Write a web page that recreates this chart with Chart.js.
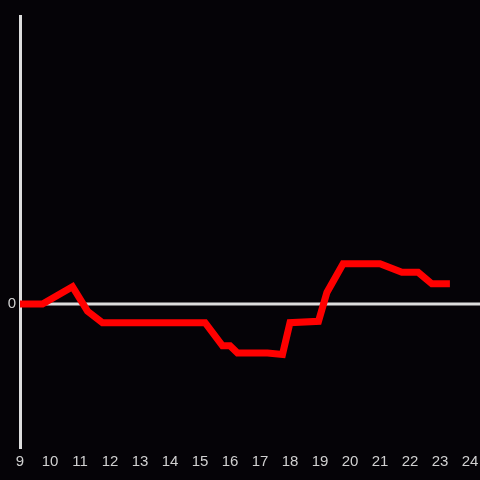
<!DOCTYPE html>
<html>
<head>
<meta charset="utf-8">
<script src="https://cdn.jsdelivr.net/npm/chart.js@4/dist/chart.umd.min.js"></script>
<style>
	html, body { margin: 0; padding: 0; background: #050307; }
	#box { width: 480px; height: 480px; }
</style>
</head>
<body>
<div id="box"><canvas id="lineChart" width="480" height="480"></canvas></div>
<script>
	// hours of day (x) and values (y)
	var hours = [9, 9.75, 10.75, 11.25, 11.75, 15.17, 15.75, 16, 16.25, 17.25, 17.75, 18, 18.95, 19.23, 19.77, 21, 21.73, 22.27, 22.73, 23.33];
	var values = [0, 0, 0.12, -0.05, -0.13, -0.13, -0.29, -0.29, -0.34, -0.34, -0.35, -0.13, -0.12, 0.08, 0.28, 0.28, 0.22, 0.22, 0.14, 0.14];
	var xTicks = [9, 10, 11, 12, 13, 14, 15, 16, 17, 18, 19, 20, 21, 22, 23, 24];

	var axisColor = '#dddddd';
	var textColor = '#d0d0d0';

	var zeroLine = {
		id: 'zeroLine',
		beforeDatasetsDraw: function(chart)
		{
			var ctx = chart.ctx;
			var y = chart.scales.y.getPixelForValue(0);
			ctx.save();
			ctx.strokeStyle = axisColor;
			ctx.lineWidth = 3;
			ctx.beginPath();
			ctx.moveTo(chart.chartArea.left, y);
			ctx.lineTo(chart.width, y);
			ctx.stroke();
			ctx.restore();
		}
	};

	window.onload = () =>
	{
		var points = [];
		for (var i = 0; i < hours.length; i++)
			points.push({x: hours[i], y: values[i]});

		var ctx = document.getElementById('lineChart').getContext('2d');
		var chart = new Chart(ctx, {
			type: 'line',
			data: {
				datasets: [{
					data: points,
					borderColor: '#ff0000',
					borderWidth: 7,
					pointRadius: 0,
					tension: 0,
					fill: false
				}]
			},
			options: {
				responsive: false,
				animation: false,
				layout: { padding: { top: 16, right: 10, left: 0, bottom: 0 } },
				plugins: { legend: { display: false }, tooltip: { enabled: false } },
				scales: {
					x: {
						type: 'linear',
						min: 9,
						max: 24,
						afterBuildTicks: function(scale) { scale.ticks = xTicks.map(function(v) { return {value: v}; }); },
						afterFit: function(scale) { scale.height = 32; scale.paddingRight = 0; },
						grid: { display: false, drawTicks: false },
						border: { display: false },
						ticks: { color: textColor, font: { size: 15 }, padding: 5, maxRotation: 0 }
					},
					y: {
						min: -1,
						max: 2,
						afterBuildTicks: function(scale) { scale.ticks = [{value: 0}]; },
						afterFit: function(scale) { scale.width = 20; },
						grid: { display: false, drawTicks: false },
						border: { display: true, color: axisColor, width: 3 },
						ticks: { color: textColor, font: { size: 15 }, padding: 4 }
					}
				}
			},
			plugins: [zeroLine]
		});
	}
</script>
</body>
</html>
